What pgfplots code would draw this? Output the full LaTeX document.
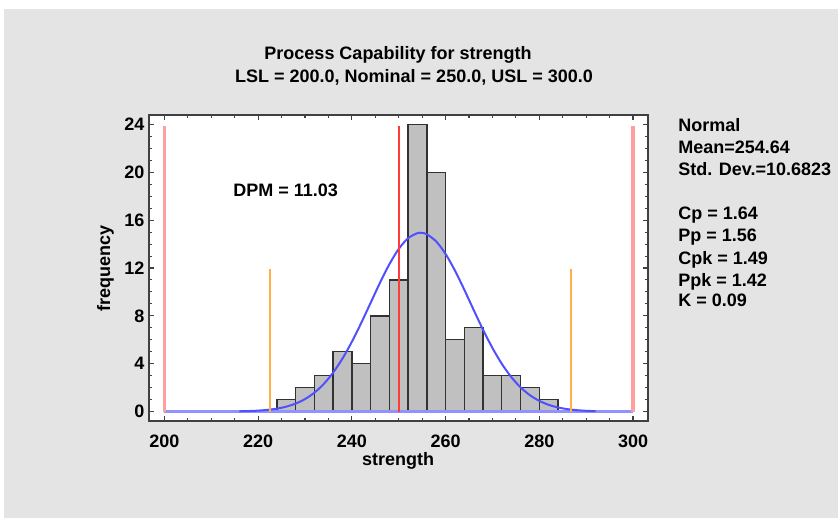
\documentclass[border=0pt]{standalone}
\usepackage{fontspec}
\setmainfont{Liberation Sans}
\usepackage{pgfplots}
\pgfplotsset{compat=1.18}
\definecolor{bg}{RGB}{228,228,228}
\definecolor{barfill}{RGB}{192,192,192}
\definecolor{baredge}{RGB}{50,50,50}
\definecolor{specpink}{RGB}{255,160,160}
\definecolor{nomred}{RGB}{255,60,60}
\definecolor{sigorange}{RGB}{255,175,70}
\definecolor{curveblue}{RGB}{80,80,255}
\definecolor{flatblue}{RGB}{145,145,255}
\newcommand\f{\fontsize{13.5pt}{16pt}\selectfont\bfseries}
\begin{document}
\begin{tikzpicture}[x=0.75pt,y=0.75pt]
\fill[white] (0,0) rectangle (838,518);
\fill[bg] (4,0) rectangle (838,509);
\begin{axis}[
  at={(111.75pt,72.75pt)}, anchor=south west,
  scale only axis, width=374.25pt, height=229.5pt,
  xmin=196.7, xmax=303.2, ymin=-0.79, ymax=24.79,
  axis background/.style={fill=white},
  axis line style={draw=black!75, line width=1pt},
  xtick={200,220,...,300}, minor x tick num=3,
  ytick={0,4,...,24}, minor y tick num=3,
  tick align=inside,
  major tick length=4pt, minor tick length=2.5pt,
  tick style={black!75, line width=0.8pt},
  /pgf/number format/assume math mode=true,
  ticklabel style={font=\f},
  xticklabel style={anchor=base, yshift=-19.5pt},
  xlabel={strength}, ylabel={frequency},
  label style={font=\f},
  xlabel style={at={(axis description cs:0.499,-0.147)}, anchor=base},
  ylabel style={at={(axis description cs:-0.078,0.497)}, anchor=base, rotate=0},
  clip=false,
]
\addplot[ybar interval, fill=barfill, draw=baredge, line width=1pt]
  coordinates {(224,1) (228,2) (232,3) (236,5) (240,4) (244,8) (248,11) (252,24)
  (256,20) (260,6) (264,7) (268,3) (272,3) (276,2) (280,1) (284,1)};
\addplot[flatblue, line width=1.8pt] coordinates {(200,0) (300,0)};
\addplot[curveblue, line width=1.5pt, smooth] coordinates {
(216,0.022) (218,0.042) (220,0.078) (222,0.140) (224,0.244) (226,0.411) (228,0.666)
(230,1.044) (232,1.579) (234,2.309) (236,3.258) (238,4.437) (240,5.836) (242,7.412)
(244,9.089) (246,10.767) (248,12.315) (250,13.595) (252,14.491) (254,14.913) (255,14.93)
(256,14.819) (258,14.218) (260,13.173) (262,11.783) (264,10.177) (266,8.487) (268,6.833)
(270,5.314) (272,3.989) (274,2.891) (276,2.024) (278,1.367) (280,0.892) (282,0.562)
(284,0.342) (286,0.201) (288,0.114) (290,0.062) (292,0.033)};
\addplot[specpink, line width=2.4pt] coordinates {(200,0) (200,23.9)};
\addplot[specpink, line width=2.4pt] coordinates {(300,0) (300,23.9)};
\addplot[nomred, line width=1.5pt] coordinates {(250,0) (250,23.9)};
\addplot[sigorange, line width=1.4pt] coordinates {(222.59,0) (222.59,11.9)};
\addplot[sigorange, line width=1.4pt] coordinates {(286.69,0) (286.69,11.9)};
\end{axis}
\node[anchor=base, font=\f] at (398,458) {Process Capability for strength};
\node[anchor=base, font=\f] at (414,435) {LSL = 200.0, Nominal = 250.0, USL = 300.0};
\node[anchor=base west, font=\f, inner sep=0pt] at (233,321) {DPM = 11.03};
\node[anchor=base west, font=\f, inner sep=0pt] at (678,386) {Normal};
\node[anchor=base west, font=\f, inner sep=0pt] at (678,364) {Mean=254.64};
\node[anchor=base west, font=\f, inner sep=0pt] at (678,342) {Std. Dev.=10.6823};
\node[anchor=base west, font=\f, inner sep=0pt] at (678,298) {Cp = 1.64};
\node[anchor=base west, font=\f, inner sep=0pt] at (678,276) {Pp = 1.56};
\node[anchor=base west, font=\f, inner sep=0pt] at (678,253) {Cpk = 1.49};
\node[anchor=base west, font=\f, inner sep=0pt] at (678,232) {Ppk = 1.42};
\node[anchor=base west, font=\f, inner sep=0pt] at (678,211) {K = 0.09};
\end{tikzpicture}
\end{document}
